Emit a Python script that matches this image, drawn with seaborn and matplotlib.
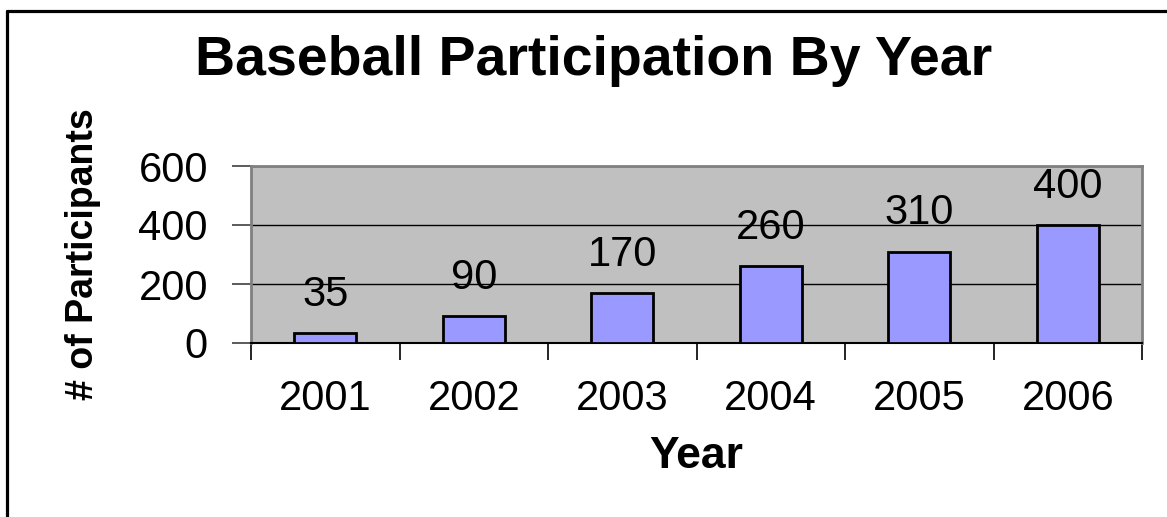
import matplotlib
matplotlib.use("Agg")
import matplotlib.pyplot as plt
from matplotlib.lines import Line2D
from matplotlib.ticker import FixedLocator
import seaborn as sns
import pandas as pd

years = ["2001", "2002", "2003", "2004", "2005", "2006"]
participants = [35, 90, 170, 260, 310, 400]
title = "Baseball Participation By Year"
xlabel = "Year"
ylabel = "# of Participants"
yticks = [0, 200, 400, 600]

sns.set_style("white")
plt.rcParams["font.family"] = ["Liberation Sans", "DejaVu Sans"]
plt.rcParams["text.color"] = "black"
plt.rcParams["axes.labelcolor"] = "black"
plt.rcParams["xtick.color"] = "black"
plt.rcParams["ytick.color"] = "black"

df = pd.DataFrame({"Year": years, "Participants": participants})

W, H = 1167, 517
fig = plt.figure(figsize=(W / 100, H / 100), dpi=100)
fig.patch.set_facecolor("white")
ax = fig.add_axes([251 / W, 1 - 343 / H, (1142 - 251) / W, (343 - 166) / H])
ax.set_facecolor("#C0C0C0")

sns.barplot(data=df, x="Year", y="Participants", color="#9999FF", saturation=1,
            edgecolor="black", linewidth=2, width=0.42, ax=ax, zorder=3)

ax.set_ylim(0, 600)
ax.set_xlim(-0.5, len(years) - 0.5)
ax.set_yticks(yticks)
ax.set_yticklabels([str(v) for v in yticks])
ax.yaxis.grid(True, color="black", linewidth=1)
ax.set_axisbelow(True)
for gl in ax.yaxis.get_gridlines():
    gl.set_zorder(1)

# Excel-style: tick marks between categories, labels centered
ax.xaxis.set_minor_locator(FixedLocator([i - 0.5 for i in range(len(years) + 1)]))
ax.tick_params(axis="x", which="major", length=0, pad=26, labelsize=30, labelcolor="black")
ax.tick_params(axis="x", which="minor", length=12, width=1.2, color="black", direction="out", bottom=True)
ax.tick_params(axis="y", which="major", length=14, width=1.2, color="#404040", direction="out",
               left=True, pad=17, labelsize=30, labelcolor="black")

for side in ["left", "top", "right"]:
    ax.spines[side].set_color("#808080")
    ax.spines[side].set_linewidth(2)
ax.spines["bottom"].set_color("black")
ax.spines["bottom"].set_linewidth(1.5)

for c in ax.containers:
    ax.bar_label(c, labels=[str(v) for v in participants], padding=13, fontsize=30, color="black")

ax.set_xlabel(xlabel, fontsize=32, fontweight="bold", va="center", color="black")
ax.xaxis.set_label_coords(0.5, -(456 - 343) / (343 - 166))
ax.set_ylabel(ylabel, fontsize=27, fontweight="heavy", va="center", color="black")
ax.yaxis.set_label_coords((83 - 251) / (1142 - 251), 0.5)

fig.text(594 / W, 1 - 75 / H, title, fontsize=40, fontweight="bold", ha="center", va="baseline", color="black")

# outer border (left and top visible)
fig.add_artist(Line2D([7 / W, 7 / W], [0, 1 - 10.5 / H], transform=fig.transFigure, color="black", linewidth=2.3))
fig.add_artist(Line2D([7 / W, 1], [1 - 10.5 / H, 1 - 10.5 / H], transform=fig.transFigure, color="black", linewidth=2.3))

fig.savefig("out.png", dpi=100)
